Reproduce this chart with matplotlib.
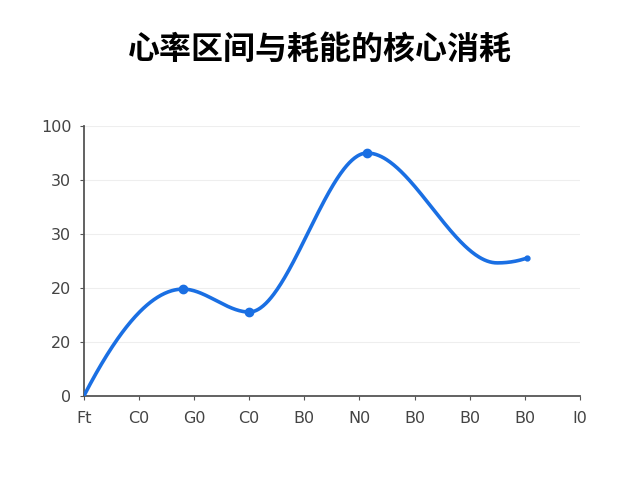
import matplotlib
matplotlib.use("Agg")
from matplotlib import pyplot as plt
import numpy as np

plt.rcParams['font.family'] = ['Noto Sans CJK SC', 'DejaVu Sans']

title = "心率区间与耗能的核心消耗"
x_labels = ["Ft", "C0", "G0", "C0", "B0", "N0", "B0", "B0", "B0", "I0"]
y_labels = ["0", "20", "20", "30", "30", "100"]
y_ticks = [0, 20, 40, 60, 80, 100]

# points the curve passes through
pt_x = [0, 1.8, 3.0, 5.14, 7.5, 8.04]
pt_y = [0, 39.6, 31.1, 90.0, 49.3, 51.1]
# which of them carry a marker
big_marks = [1, 2, 3]
small_marks = [5]


def pchip(x, y, n=500):
    # monotone cubic (Fritsch-Carlson), flat at local extrema
    x = np.asarray(x, float)
    y = np.asarray(y, float)
    h = np.diff(x)
    d = np.diff(y) / h
    k = len(x)
    m = np.zeros(k)
    for i in range(1, k - 1):
        if d[i - 1] * d[i] > 0:
            w1 = 2 * h[i] + h[i - 1]
            w2 = h[i] + 2 * h[i - 1]
            m[i] = (w1 + w2) / (w1 / d[i - 1] + w2 / d[i])
    # end slopes
    m0 = ((2 * h[0] + h[1]) * d[0] - h[0] * d[1]) / (h[0] + h[1])
    if np.sign(m0) != np.sign(d[0]):
        m0 = 0
    elif np.sign(d[0]) != np.sign(d[1]) and abs(m0) > abs(3 * d[0]):
        m0 = 3 * d[0]
    m[0] = m0
    mn = ((2 * h[-1] + h[-2]) * d[-1] - h[-1] * d[-2]) / (h[-1] + h[-2])
    if np.sign(mn) != np.sign(d[-1]):
        mn = 0
    elif np.sign(d[-1]) != np.sign(d[-2]) and abs(mn) > abs(3 * d[-1]):
        mn = 3 * d[-1]
    m[-1] = mn
    xs = np.linspace(x[0], x[-1], n)
    idx = np.clip(np.searchsorted(x, xs, side='right') - 1, 0, k - 2)
    t = (xs - x[idx]) / h[idx]
    h00 = 2 * t**3 - 3 * t**2 + 1
    h10 = t**3 - 2 * t**2 + t
    h01 = -2 * t**3 + 3 * t**2
    h11 = t**3 - t**2
    ys = h00 * y[idx] + h10 * h[idx] * m[idx] + h01 * y[idx + 1] + h11 * h[idx] * m[idx + 1]
    return xs, ys


fig = plt.figure(figsize=(6.4, 4.8), dpi=100)
ax = fig.add_axes([0.131, 0.175, 0.775, 0.5625])

blue = "#1a6fe3"
xs, ys = pchip(pt_x, pt_y)
ax.plot(xs, ys, color=blue, lw=2.6, solid_capstyle='round', zorder=3)
ax.plot([pt_x[i] for i in big_marks], [pt_y[i] for i in big_marks], 'o',
        color=blue, ms=6, zorder=4)
ax.plot([pt_x[i] for i in small_marks], [pt_y[i] for i in small_marks], 'o',
        color=blue, ms=3.5, zorder=4)

ax.set_xlim(0, 9)
ax.set_ylim(0, 100)
ax.set_xticks(range(len(x_labels)))
ax.set_xticklabels(x_labels)
ax.set_yticks(y_ticks)
ax.set_yticklabels(y_labels)
ax.grid(axis='y', color='#eeeeee', lw=0.8)
ax.set_axisbelow(True)

for s in ['top', 'right']:
    ax.spines[s].set_visible(False)
for s in ['left', 'bottom']:
    ax.spines[s].set_color('#555555')
    ax.spines[s].set_linewidth(1.3)
ax.tick_params(axis='both', colors='#555555', labelcolor='#444444',
               labelsize=12, length=3, width=0.8)
ax.tick_params(axis='x', pad=8)
ax.tick_params(axis='y', pad=6)
for lab in ax.get_xticklabels() + ax.get_yticklabels():
    lab.set_family(['DejaVu Sans'])
    lab.set_fontsize(11.5)

fig.text(0.5, 0.895, title, ha='center', va='center', fontsize=23,
         fontweight='black', color='black')

fig.savefig("out.png", dpi=100)
